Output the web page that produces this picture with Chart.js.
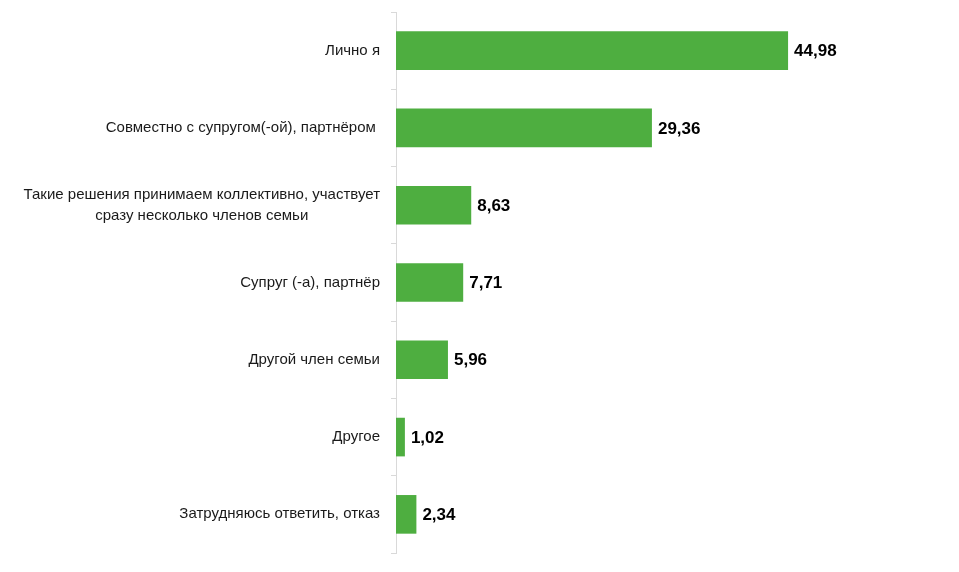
<!DOCTYPE html>
<html>
<head>
<meta charset="utf-8">
<script src="https://cdn.jsdelivr.net/npm/chart.js@4.4.0/dist/chart.umd.min.js"></script>
<style>
  html, body { margin: 0; padding: 0; background: #fff; }
  #wrap { width: 959px; height: 572px; }
</style>
</head>
<body>
<div id="wrap"><canvas id="myChart"></canvas></div>
<script>
// who makes the decisions, %
var categories = [
    "Лично я",
    "Совместно с супругом(-ой), партнёром ",
    ["Такие решения принимаем коллективно, участвует", "сразу несколько членов семьи"],
    "Супруг (-а), партнёр",
    "Другой член семьи",
    "Другое",
    "Затрудняюсь ответить, отказ"
];
var values = [44.98, 29.36, 8.63, 7.71, 5.96, 1.02, 2.34];

var labelFont = "15px 'Liberation Sans', Arial, sans-serif";
var valueFont = "bold 17px 'Liberation Sans', Arial, sans-serif";

// draws the category labels (right aligned block, lines centred inside it)
var catLabels = {
    id: 'catLabels',
    afterDraw: function (chart) {
        var scale = chart.scales.y;
        var ctx = chart.ctx;
        ctx.save();
        ctx.font = labelFont;
        ctx.fillStyle = '#1a1a1a';
        ctx.textBaseline = 'middle';
        ctx.textAlign = 'center';
        var rightX = scale.right - 16;
        var lineH = 21;
        categories.forEach(function (c, i) {
            var lines = Array.isArray(c) ? c : [c];
            var w = 0;
            lines.forEach(function (l) { w = Math.max(w, ctx.measureText(l).width); });
            var y = scale.getPixelForTick(i) - (lines.length - 1) * lineH / 2;
            lines.forEach(function (l, k) {
                ctx.fillText(l, rightX - w / 2, y + k * lineH);
            });
        });
        ctx.restore();
    }
};

// value labels at the end of each bar
var valueLabels = {
    id: 'valueLabels',
    afterDatasetsDraw: function (chart) {
        var ctx = chart.ctx;
        var meta = chart.getDatasetMeta(0);
        ctx.save();
        ctx.font = valueFont;
        ctx.fillStyle = '#000';
        ctx.textBaseline = 'middle';
        ctx.textAlign = 'left';
        meta.data.forEach(function (bar, i) {
            ctx.fillText(values[i].toFixed(2).replace('.', ','), bar.x + 6, bar.y + 1);
        });
        ctx.restore();
    }
};

var ctx = document.getElementById("myChart");
var myChart = new Chart(ctx, {
    type: 'bar',
    data: {
        labels: categories,
        datasets: [{
                backgroundColor: "#4eae40",
                borderWidth: 0,
                barPercentage: 0.5,
                categoryPercentage: 1,
                data: values
            }]
    },
    options: {
        indexAxis: 'y',
        responsive: true,
        maintainAspectRatio: false,
        animation: false,
        layout: {
            padding: {top: 10, bottom: 19, left: 0, right: 40}
        },
        plugins: {
            legend: {display: false},
            tooltip: {enabled: false}
        },
        scales: {
            x: {
                display: false,
                min: 0,
                max: 60
            },
            y: {
                afterFit: function (scale) {
                    scale.width = 396;
                },
                border: {color: '#d9d9d9', width: 1},
                grid: {
                    drawOnChartArea: false,
                    drawTicks: true,
                    tickLength: 5,
                    color: '#d9d9d9',
                    offset: true
                },
                ticks: {
                    color: 'rgba(0,0,0,0)',
                    font: {size: 15}
                }
            }
        }
    },
    plugins: [catLabels, valueLabels]
});
</script>
</body>
</html>
